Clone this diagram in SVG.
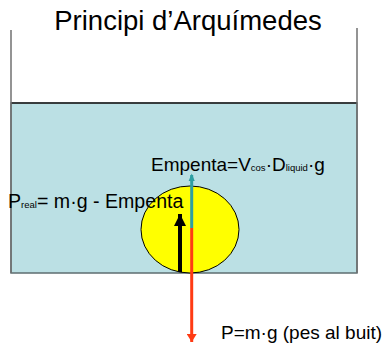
<svg xmlns="http://www.w3.org/2000/svg" width="384" height="345" viewBox="0 0 384 345">
<style>
text{font-family:"Liberation Sans",Arial,sans-serif;fill:#000}
.lbl{font-size:19px}
.sub{font-size:9.5px}
.title{font-size:27.5px}
</style>
<defs>
<marker id="hTeal" markerWidth="8" markerHeight="10" refX="8" refY="4" orient="auto" markerUnits="userSpaceOnUse" viewBox="0 0 10 8"><path d="M0,0 L10,4 L0,8 Z" fill="#2E9FA3"/></marker>
<marker id="hRed" markerWidth="8" markerHeight="10" refX="8" refY="5" orient="auto" markerUnits="userSpaceOnUse" viewBox="0 0 8 10"><path d="M0,0 L8,5 L0,10 Z" fill="#FF3B14"/></marker>
<marker id="hBlack" markerWidth="12" markerHeight="12" refX="12" refY="6" orient="auto" markerUnits="userSpaceOnUse" viewBox="0 0 12 12"><path d="M0,0 L12,6 L0,12 Z" fill="#000"/></marker>
</defs>
<g id="title"><text class="title" x="188" y="30" text-anchor="middle">Principi d’Arquímedes</text></g>
<g id="container">
<rect x="11" y="103" width="346" height="170" fill="#BBE0E4" stroke="#5E6E70" stroke-width="1.5"/>
<line x1="11" y1="103" x2="357" y2="103" stroke="#222" stroke-width="1.5"/>
<line x1="11" y1="30" x2="11" y2="273" stroke="#707070" stroke-width="1.5"/>
<line x1="357" y1="28" x2="357" y2="273" stroke="#707070" stroke-width="1.5"/>
</g>
<g id="ball"><ellipse cx="190" cy="229.5" rx="49" ry="43.5" fill="#FFFF00" stroke="#000" stroke-width="1"/></g>
<g id="connectors">
<line x1="191.7" y1="228" x2="191.7" y2="175" stroke="#2E9FA3" stroke-width="3" marker-end="url(#hTeal)"/>
<line x1="191.7" y1="228" x2="191.7" y2="342" stroke="#FF3B14" stroke-width="3" marker-end="url(#hRed)"/>
<line x1="180" y1="272" x2="180" y2="214" stroke="#000" stroke-width="4" marker-end="url(#hBlack)"/>
</g>
<g id="label-empenta"><text class="lbl" x="151" y="171">Empenta=V<tspan class="sub">cos</tspan>·D<tspan class="sub">liquid</tspan>·g</text></g>
<g id="label-preal"><text class="lbl" x="8" y="208" style="font-size:19.6px">P<tspan class="sub">real</tspan>= m·g - Empenta</text></g>
<g id="label-pes"><text class="lbl" x="221" y="339">P=m·g (pes al buit)</text></g>
</svg>
